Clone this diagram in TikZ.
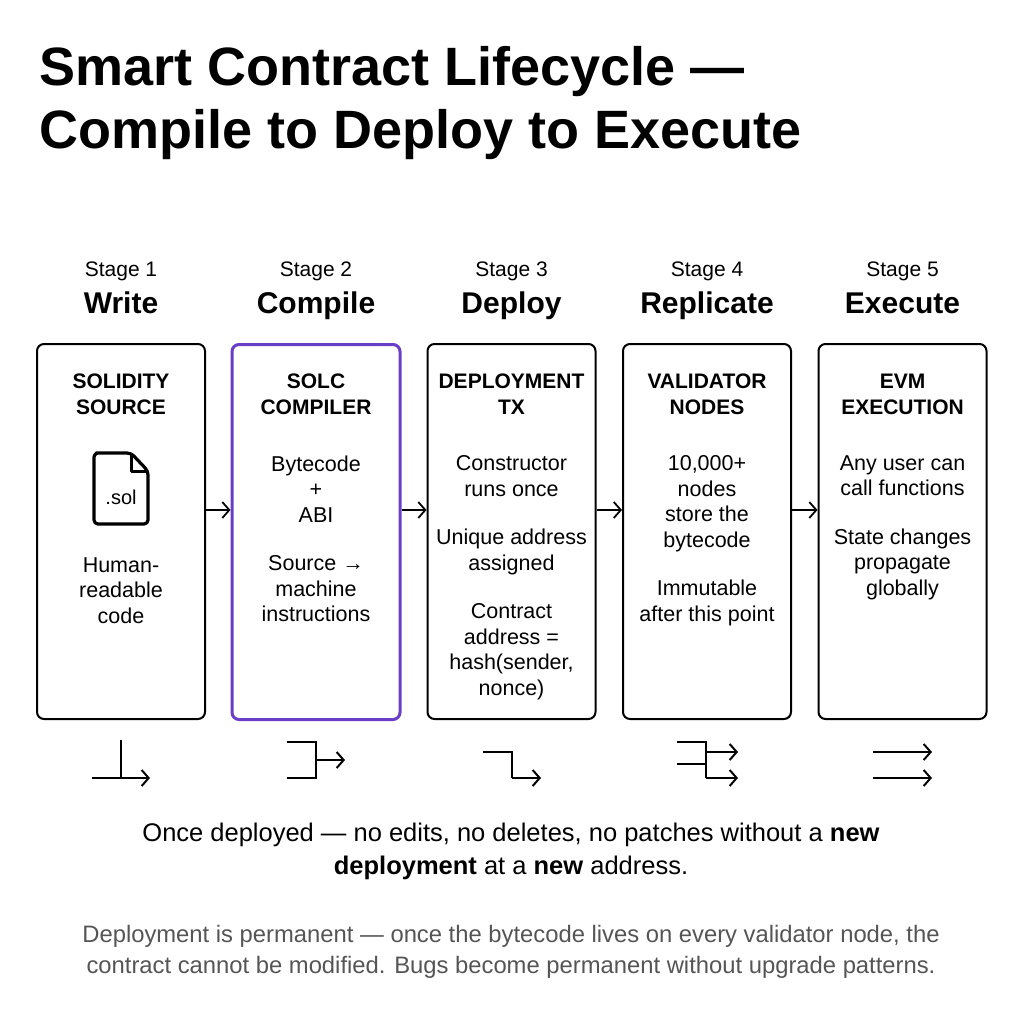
\documentclass[tikz,border=0pt]{standalone}
\usepackage{fontspec}
\setmainfont{Liberation Sans}
\usetikzlibrary{arrows.meta}
\definecolor{purp}{HTML}{6A3FC8}
\definecolor{foot}{HTML}{555555}
\begin{document}
\begin{tikzpicture}[x=1pt,y=-1pt,
  box/.style={draw,line width=2pt,rounded corners=7pt,minimum width=168pt,minimum height=375pt,anchor=north},
  btxt/.style={align=center,font=\fontsize{21.5}{25.5}\selectfont},
  btitle/.style={align=center,font=\fontsize{21}{26}\selectfont\bfseries},
  conn/.style={line width=1.8pt,-{Straight Barb[length=7pt,width=16pt]}},
  ic/.style={line width=2pt},
  ica/.style={line width=2pt,-{Straight Barb[length=7pt,width=16pt]}}]
\useasboundingbox (0,0) rectangle (1024,1024);
\fill[white] (0,0) rectangle (1024,1024);
\node[anchor=west,font=\fontsize{54}{60}\selectfont\bfseries] (t1) at (36,72) {Smart Contract Lifecycle —};
\node[anchor=west,font=\fontsize{54}{60}\selectfont\bfseries] (t2) at (36,135) {Compile to Deploy to Execute};
\foreach \i/\x/\s in {1/121/Write,2/316/Compile,3/511.5/Deploy,4/707/Replicate,5/902.5/Execute}{
  \node[anchor=base,font=\fontsize{21}{24}\selectfont] (s\i) at (\x,276) {Stage \i};
  \node[anchor=base,font=\fontsize{30}{32}\selectfont\bfseries] (n\i) at (\x,313) {\s};
}
\node[box] (b1) at (121,343) {};
\node[box,draw=purp,line width=3pt] (b2) at (316,343) {};
\node[box] (b3) at (511.5,343) {};
\node[box] (b4) at (707,343) {};
\node[box] (b5) at (902.5,343) {};
\foreach \a/\b in {b1/b2,b2/b3,b3/b4,b4/b5}{
  \draw[conn] (\a.east |- 0,510) -- (\b.west |- 0,510);
}
% titles
\node[btitle] (h1) at (121,394) {SOLIDITY\\SOURCE};
\node[btitle] (h2) at (316,394) {SOLC\\COMPILER};
\node[btitle] (h3) at (511.5,394) {DEPLOYMENT\\TX};
\node[btitle] (h4) at (707,394) {VALIDATOR\\NODES};
\node[btitle] (h5) at (902.5,394) {EVM\\EXECUTION};
% file icon
\draw[line width=3.2pt,rounded corners=4pt,line join=round] (100,453) -- (131,453) -- (148,471) -- (148,524) -- (94,524) -- (94,453) -- cycle;
\draw[line width=3pt,line join=round] (131,453) -- (131,471) -- (148,471);
\node[font=\fontsize{20}{20}\selectfont] (sol) at (121,497) {.sol};
\node[btxt,anchor=north] (d1) at (121,554) {Human-\\readable\\code};
\node[btxt,anchor=north] (d2) at (316,452) {Bytecode\\+\\ABI\\[23pt]Source →\\machine\\instructions};
\node[btxt,anchor=north] (d3) at (511.5,452) {Constructor\\runs once\\[23pt]Unique address\\assigned\\[23pt]Contract\\address =\\hash(sender,\\nonce)};
\node[btxt,anchor=north] (d4) at (707,452) {10,000+\\nodes\\store the\\bytecode\\[23pt]Immutable\\after this point};
\node[btxt,anchor=north] (d5) at (902.5,452) {Any user can\\call functions\\[23pt]State changes\\propagate\\globally};
% icons
\draw[ic] (121,740) -- (121,778);
\draw[ica] (92,778) -- (150,778);
\draw[ic] (287,742) -- (316,742) -- (316,778) -- (287,778);
\draw[ica] (316,760) -- (345,760);
\draw[ic] (483,752) -- (512,752) -- (512,778);
\draw[ica] (512,778) -- (541,778);
\draw[ic] (677,742) -- (706,742) -- (706,778);
\draw[ic] (677,764) -- (706,764);
\draw[ica] (706,752) -- (738,752);
\draw[ica] (706,778) -- (738,778);
\draw[ica] (873,752) -- (932,752);
\draw[ica] (873,778) -- (932,778);
% bottom
\node[align=center,font=\fontsize{25.5}{33}\selectfont] (m) at (511,851) {Once deployed — no edits, no deletes, no patches without a \textbf{new}\\\textbf{deployment} at a \textbf{new} address.};
\node[align=center,text=foot,font=\fontsize{23.8}{31}\selectfont] (f) at (511,952) {Deployment is permanent — once the bytecode lives on every validator node, the\\contract cannot be modified. Bugs become permanent without upgrade patterns.};
\end{tikzpicture}
\end{document}
